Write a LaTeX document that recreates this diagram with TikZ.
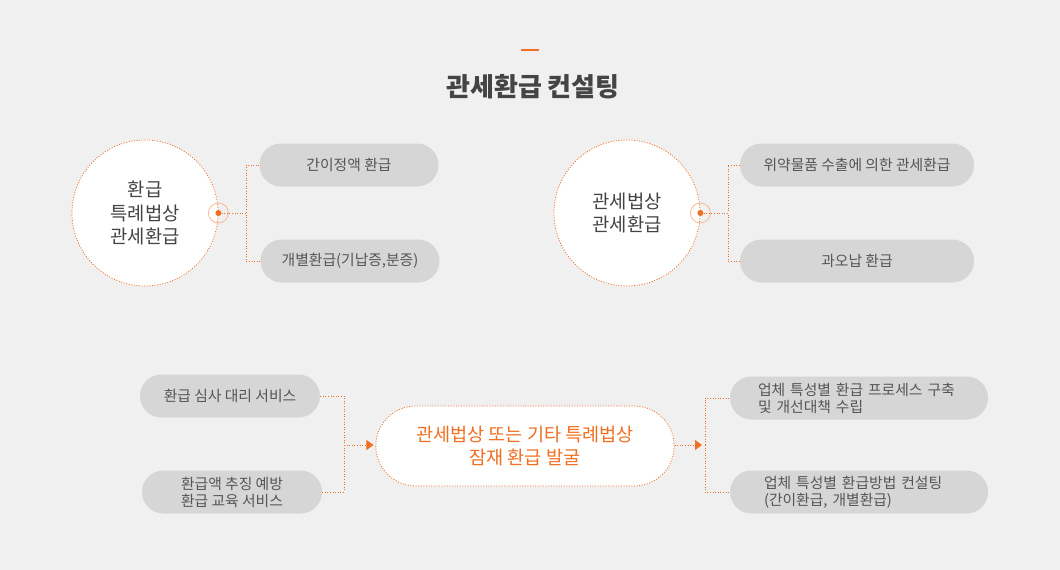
\documentclass[tikz,border=0pt]{standalone}
\usepackage{fontspec}
\setmainfont{Noto Sans CJK KR}
\usetikzlibrary{positioning, arrows.meta, shapes.misc}

\definecolor{bgGray}{HTML}{F0F0F0}
\definecolor{pillGray}{HTML}{D6D6D6}
\definecolor{txtGray}{HTML}{555555}
\definecolor{darkGray}{HTML}{444444}
\definecolor{accent}{HTML}{F26F21}
\definecolor{accentLight}{HTML}{F8B994}

\begin{document}
\begin{tikzpicture}
    [
        x=1pt, y=-1pt,
        pill/.style={rounded rectangle, fill=pillGray, text=txtGray, minimum height=43pt,
            inner sep=0pt, align=center, font=\fontsize{14.8}{17}\selectfont},
        hub/.style={draw=accent, fill=white, circle, minimum size=146pt, inner sep=0pt,
            dash pattern=on 1pt off 1.6pt, line width=0.8pt, text=darkGray, align=center,
            font=\fontsize{18.8}{23.5}\selectfont},
        ring/.style={draw=accentLight, circle, minimum size=20pt, inner sep=0pt, line width=0.8pt},
        dot/.style={fill=accent, circle, minimum size=6pt, inner sep=0pt},
        target/.style={rounded rectangle, draw=accent, fill=white, minimum width=305pt,
            minimum height=80pt, dash pattern=on 1pt off 1.6pt, line width=0.8pt,
            text=accent, align=center, font=\fontsize{18.6}{23}\selectfont},
        link/.style={draw=accent, dash pattern=on 1pt off 1.6pt, line width=0.8pt},
        arrow/.style={-{Triangle[width=10pt, length=7pt]}}
    ]
        \fill [bgGray] (0,0) rectangle (1060,570);
        \useasboundingbox (0,0) rectangle (1060,570);

        % =========================================================================
        % NODES
        % =========================================================================
        % --- Title ---
        \draw [accent, line width=2pt] (521,50) -- (539,50);
        \node [text=darkGray, font=\fontsize{26}{30}\selectfont\bfseries] (title) at (533,87) {관세환급 컨설팅};
        % --- Top left ---
        \node [hub] (hubA) at (145,213) {환급\\특례법상\\관세환급};
        \node [ring] (ringA) at (hubA.east) {};
        \node [dot] (dotA) at (hubA.east) {};
        \node [pill, minimum width=179pt] (simple) at (349,165) {간이정액 환급};
        \node [pill, minimum width=179pt] (single) at (350,261) {개별환급(기납증,분증)};
        \coordinate (jA) at (246,213);
        % --- Top right ---
        \node [hub] (hubB) at (627,213) {관세법상\\관세환급};
        \node [ring] (ringB) at (hubB.east) {};
        \node [dot] (dotB) at (hubB.east) {};
        \node [pill, minimum width=234pt] (breach) at (857,165) {위약물품 수출에 의한 관세환급};
        \node [pill, minimum width=234pt] (overpaid) at (857,261) {과오납 환급};
        \coordinate (jB) at (728,213);
        % --- Bottom ---
        \node [target] (find) at (525,446) {관세법상 또는 기타 특례법상\\잠재 환급 발굴};
        \node [pill, minimum width=180pt] (review) at (230,396) {환급 심사 대리 서비스};
        \node [pill, minimum width=180pt] (educate) at (232,492) {환급액 추징 예방\\환급 교육 서비스};
        \node [pill, minimum width=258pt, text width=222pt, align=left] (process) at (859,398)
            {\hspace*{10pt}업체 특성별 환급 프로세스 구축\\\hspace*{10pt}및 개선대책 수립};
        \node [pill, minimum width=258pt, text width=222pt, align=left] (method) at (859,492)
            {\hspace*{16pt}업체 특성별 환급방법 컨설팅\\\hspace*{16pt}(간이환급, 개별환급)};
        \coordinate (jC) at (344,445);
        \coordinate (jD) at (705,445);

        % =========================================================================
        % PATHS
        % =========================================================================
        % --- Top left ---
        \draw [link] (dotA) -- (jA);
        \draw [link] (simple.west) -| (jA);
        \draw [link] (single.west) -| (jA);
        % --- Top right ---
        \draw [link] (dotB) -- (jB);
        \draw [link] (breach.west) -| (jB);
        \draw [link] (overpaid.west) -| (jB);
        % --- Bottom ---
        \draw [link] (review.east) -| (jC);
        \draw [link] (educate.east) -| (jC);
        \draw [link, arrow, accent, shorten >=2pt] (jC) -- (jC -| find.west);
        \draw [link, arrow, accent, shorten >=3pt] (jD -| find.east) -- (jD);
        \draw [link] (jD) |- (process.west);
        \draw [link] (jD) |- (method.west);
    \end{tikzpicture}
\end{document}
